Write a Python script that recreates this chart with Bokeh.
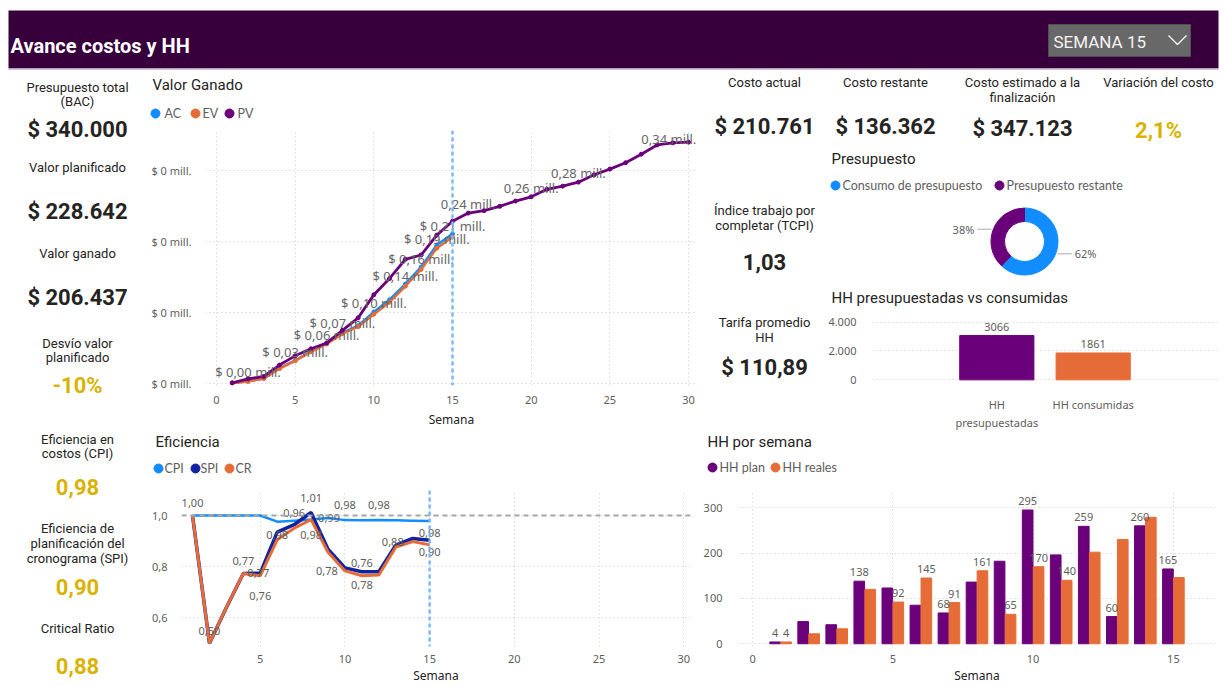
import math
from bokeh.plotting import figure
from bokeh.layouts import row, column
from bokeh.models import Range1d, FixedTicker, ColumnDataSource, Span
from bokeh.core.properties import value
from bokeh.transform import dodge
from bokeh.embed import file_html
from bokeh.resources import INLINE

# ---------------- data ----------------
weeks = list(range(1, 31))
pv = [1000, 6500, 10000, 26000, 39000, 49000, 57000, 75000, 92500, 125000,
      148000, 175000, 181000, 209000, 228642, 240000, 243500, 249500, 257000, 263000,
      273500, 278000, 283600, 294000, 302000, 311000, 323000, 336000, 339000, 340000]
weeks_act = list(range(1, 16))
ev = [800, 3000, 7000, 21000, 32000, 44600, 55700, 70000, 80000, 97700,
      114600, 137000, 160600, 190600, 206437]
ac = [800, 3100, 7200, 21500, 32500, 45500, 57000, 71500, 81500, 100800,
      118000, 140000, 164000, 195000, 210761]
cpi = [1.0, 1.0, 1.0, 1.0, 1.0, 0.976, 0.98, 0.984, 0.99, 0.982, 0.981, 0.982, 0.981, 0.98, 0.979]
spi = [1.0, 0.50, 0.64, 0.773, 0.774, 0.935, 0.964, 1.012, 0.868, 0.795, 0.78, 0.78, 0.884, 0.91, 0.903]
cr = [1.0, 0.50, 0.64, 0.773, 0.764, 0.905, 0.95, 0.984, 0.856, 0.783, 0.764, 0.767, 0.876, 0.898, 0.885]
hh_plan = [4, 49, 42, 138, 123, 85, 68, 136, 182, 295, 196, 259, 60, 260, 165]
hh_real = [4, 22, 33, 120, 92, 145, 91, 161, 65, 170, 140, 202, 230, 279, 146]
hh_tot_cats = ["HH presupuestadas", "HH consumidas"]
hh_tot_tick_labels = ["HH\npresupuestadas", "HH consumidas"]
hh_tot_vals = [3066, 1861]
budget_cats = ["Consumo de presupuesto", "Presupuesto restante"]
budget_vals = [210761, 129239]
current_week = 15

bac = 340000
costo_restante = 136362
tarifa_hh = 110.89

vg_x_ticks = [0, 5, 10, 15, 20, 25, 30]
vg_y_ticks = [0, 100000, 200000, 300000]
vg_y_labels = ["$ 0 mill.", "$ 0 mill.", "$ 0 mill.", "$ 0 mill."]
ef_x_ticks = [0, 5, 10, 15, 20, 25, 30]
ef_y_ticks = [0.6, 0.8, 1.0]
ef_y_labels = ["0,6", "0,8", "1,0"]
hh_x_ticks = [0, 5, 10, 15]
hh_y_ticks = [0, 100, 200, 300]
hht_y_ticks = [0, 2000, 4000]
hht_y_labels = ["0", "2.000", "4.000"]

# which points carry data labels (series, week, dx px, dy px)
vg_label_pts = [("EV", 2, 0, -9), ("EV", 5, 0, -9), ("EV", 7, 0, -9), ("EV", 8, 0, -11),
                ("EV", 10, 0, -11), ("EV", 12, 0, -10), ("EV", 13, 0, -11), ("EV", 14, 0, -9),
                ("EV", 15, 0, -11), ("PV", 16, 0, -9), ("PV", 20, 0, -9), ("PV", 23, 0, -9),
                ("PV", 29, -4, -4)]
ef_label_pts = [("SPI", 1, 0, -13), ("CR", 2, 0, -12), ("SPI", 4, 0, -12), ("SPI", 5, -2, 0),
                ("CR", 5, 0, 20), ("CPI", 6, 0, 13), ("SPI", 7, 0, -12), ("SPI", 8, 0, -14),
                ("CR", 8, 0, 15), ("CPI", 9, 1, 0), ("CPI", 10, 0, -15), ("CPI", 12, 0, -15),
                ("CR", 10, -18, 0), ("CR", 11, 0, -13), ("SPI", 11, 0, 13), ("SPI", 13, -3, -3),
                ("CPI", 15, 0, 12), ("SPI", 15, 0, 12)]
hh_label_pts = [("plan", 1), ("real", 1), ("plan", 4), ("real", 5), ("real", 6), ("plan", 7),
                ("real", 7), ("real", 8), ("real", 9), ("plan", 10), ("real", 10), ("real", 11),
                ("plan", 12), ("plan", 13), ("plan", 14), ("plan", 15)]

# ---------------- styles ----------------
C_AC = "#118DFF"
C_EV = "#E66C37"
C_PV = "#6B007B"
C_SPI = "#12239E"
GOLD = "#D9B300"
DARK = "#252423"
GRAY = "#605E5C"
HEADER = "#37003C"
KF = "Roboto"
AF = "Noto Sans"
LF = "Lato"


def money(v):
    return "$ " + f"{v:,.0f}".replace(",", ".")


def dec(v, n=2):
    return f"{v:.{n}f}".replace(".", ",")


def canvas(w, h, flip=True):
    yr = Range1d(h, 0) if flip else Range1d(0, h)
    p = figure(width=w, height=h, x_range=Range1d(0, w), y_range=yr,
               output_backend="svg", toolbar_location=None,
               x_axis_type=None, y_axis_type=None,
               min_border_left=0, min_border_right=0, min_border_top=0, min_border_bottom=0)
    p.outline_line_color = None
    p.background_fill_color = "white"
    p.border_fill_color = "white"
    return p


def txt(p, x, y, s, size=13, color=DARK, bold=False, align="center", font=KF, baseline="middle"):
    p.text(x=[x], y=[y], text=[s], text_font=value(font), text_font_size=f"{size}px",
           text_color=color, text_align=align, text_baseline=baseline,
           text_font_style="bold" if bold else "normal")


def chart(w, h, xr, yr, ml, mr, mt, mb):
    p = figure(width=w, height=h, x_range=xr, y_range=yr, output_backend="svg",
               toolbar_location=None, min_border_left=ml, min_border_right=mr,
               min_border_top=mt, min_border_bottom=mb)
    p.outline_line_color = None
    p.background_fill_color = "white"
    p.border_fill_color = "white"
    for ax in p.axis:
        ax.axis_line_color = None
        ax.major_tick_line_color = None
        ax.minor_tick_line_color = None
        ax.major_label_text_color = GRAY
        ax.major_label_text_font = AF
        ax.major_label_text_font_size = "11px"
        ax.axis_label_text_font = AF
        ax.axis_label_text_font_size = "12px"
        ax.axis_label_text_font_style = "normal"
        ax.axis_label_text_color = DARK
    for g in p.grid:
        g.grid_line_color = "#C8C8C8"
        g.grid_line_dash = "1 3"
        g.grid_line_width = 1
    return p


def legend(p, y, items):
    for (cx, tx, label, col) in items:
        p.scatter(x=[cx], y=[y], size=9, color=col)
        txt(p, tx, y, label, 12.5, GRAY, False, "left", LF)


def iso(f):
    return column(f)


# ---------------- KPIs ----------------
pv_now = pv[current_week - 1]
ev_now = ev[current_week - 1]
ac_now = ac[current_week - 1]
desvio = (ev_now - pv_now) / pv_now * 100
cpi_now = ev_now / ac_now
spi_now = ev_now / pv_now
cr_now = cpi_now * spi_now
eac = ac_now + costo_restante
tcpi = (bac - ev_now) / (bac - ac_now)
variacion = (eac - bac) / bac * 100

# header  (page 0..1225 x 0..70)
hdr = canvas(1225, 70)
hdr.quad(left=[8], right=[1218], top=[10], bottom=[68], fill_color=HEADER, line_color=None)
hdr.segment(x0=[8], y0=[69], x1=[1218], y1=[69], line_color="#D2C3D8", line_width=2)
txt(hdr, 10, 45, "Avance costos y HH", 20, "white", True, "left")
hdr.quad(left=[1048], right=[1190], top=[24], bottom=[56], fill_color="#686868", line_color="#505050")
txt(hdr, 1053, 41, f"SEMANA {current_week}", 17, "#F3F3F3", False, "left")
hdr.line(x=[1168, 1177, 1186], y=[35, 44, 35], line_color="white", line_width=1.3)

# left KPI column (page 0..148 x 70..686)
kl = canvas(148, 616)
cx = 77
txt(kl, cx, 17, "Presupuesto total")
txt(kl, cx, 31, "(BAC)")
txt(kl, cx, 59, money(bac), 22, DARK, True)
txt(kl, cx, 97, "Valor planificado")
txt(kl, cx, 141, money(pv_now), 22, DARK, True)
txt(kl, cx, 183, "Valor ganado")
txt(kl, cx, 227, money(ev_now), 22, DARK, True)
txt(kl, cx, 273, "Desvío valor")
txt(kl, cx, 287, "planificado")
txt(kl, cx, 315, f"{desvio:.0f}%", 22, GOLD, True)
txt(kl, cx, 369, "Eficiencia en")
txt(kl, cx, 383, "costos (CPI)")
txt(kl, cx, 416, dec(cpi_now), 22, GOLD, True)
txt(kl, cx, 458, "Eficiencia de")
txt(kl, cx, 473, "planificación del")
txt(kl, cx, 488, "cronograma (SPI)")
txt(kl, cx, 516, dec(spi_now), 22, GOLD, True)
txt(kl, cx, 558, "Critical Ratio")
txt(kl, cx, 595, dec(cr_now), 22, GOLD, True)

# middle KPI column (page 700..825 x 70..432)
km = canvas(125, 362)
cx = 64
txt(km, cx, 12, "Costo actual")
txt(km, cx, 56, money(ac_now), 22, DARK, True)
txt(km, cx, 140, "Índice trabajo por")
txt(km, cx, 155, "completar (TCPI)")
txt(km, cx, 191, dec(tcpi), 22, DARK, True)
txt(km, cx, 252, "Tarifa promedio")
txt(km, cx, 267, "HH")
txt(km, cx, 297, "$ " + dec(tarifa_hh), 22, DARK, True)

# top-right KPIs (page 825..1225 x 70..145)
kt = canvas(400, 75)
txt(kt, 60, 12, "Costo restante")
txt(kt, 60, 56, money(costo_restante), 22, DARK, True)
txt(kt, 197, 12, "Costo estimado a la")
txt(kt, 197, 27, "finalización")
txt(kt, 197, 58, money(eac), 22, DARK, True)
txt(kt, 333, 12, "Variación del costo")
txt(kt, 333, 60, dec(variacion, 1) + "%", 22, GOLD, True)

# donut (page 825..1225 x 145..310), y up
dn = canvas(400, 165, flip=False)
txt(dn, 6, 152, "Presupuesto", 15, DARK, False, "left")
legend(dn, 125, [(10, 17, budget_cats[0], C_AC), (174, 181, budget_cats[1], C_PV)])
dcx, dcy, r_in, r_out = 199, 69, 20, 33.5
total = sum(budget_vals)
fracs = [v / total for v in budget_vals]
starts, ends = [], []
a = math.pi / 2
for f in fracs:
    starts.append(a)
    a -= 2 * math.pi * f
    ends.append(a)
dn.annular_wedge(x=dcx, y=dcy, inner_radius=r_in, outer_radius=r_out, start_angle=starts,
                 end_angle=ends, direction="clock", color=[C_AC, C_PV])
for s, e, f in zip(starts, ends, fracs):
    m = (s + e) / 2
    ex, ey = dcx + r_out * math.cos(m), dcy + r_out * math.sin(m)
    side = 1 if math.cos(m) > 0 else -1
    x0, x1 = ex + side * 2, ex + side * 16
    dn.segment(x0=[x0], y0=[ey], x1=[x1], y1=[ey], line_color="#AAAAAA", line_width=1)
    txt(dn, x1 + side * 3, ey, f"{f * 100:.0f}%", 11, GRAY, False, "left" if side > 0 else "right", AF)
txt(dn, 6, 13, "HH presupuestadas vs consumidas", 15, DARK, False, "left")

# HH presupuestadas vs consumidas (page 825..1225 x 310..432)
hb = chart(400, 122, Range1d(-0.79, 2.79), Range1d(-114, 4800), 43, 8, 0, 36)
hb_x = [i + 0.5 for i in range(len(hh_tot_cats))]
hb.vbar(x=hb_x, top=hh_tot_vals, width=0.77, color=[C_PV, C_EV])
hb.text(x=hb_x, y=hh_tot_vals, text=[str(v) for v in hh_tot_vals], y_offset=-5,
        text_font=value(AF), text_font_size="11px", text_color=GRAY, text_align="center",
        text_baseline="bottom")
hb.yaxis.ticker = FixedTicker(ticks=hht_y_ticks)
hb.yaxis.major_label_overrides = dict(zip(hht_y_ticks, hht_y_labels))
hb.yaxis.major_label_standoff = 10
hb.xaxis.ticker = FixedTicker(ticks=hb_x)
hb.xaxis.major_label_overrides = dict(zip(hb_x, hh_tot_tick_labels))
hb.xaxis.major_label_standoff = 9
hb.xgrid.visible = False

# HH por semana (page 700..1225 x 432..686)
hh_head = canvas(525, 58)
txt(hh_head, 7, 9, "HH por semana", 15, DARK, False, "left")
legend(hh_head, 35, [(12, 19, "HH plan", C_PV), (75, 82, "HH reales", C_EV)])

hs = chart(525, 196, Range1d(-0.5, 16.5), Range1d(-6, 338), 35, 10, 0, 34)
src = ColumnDataSource(dict(week=weeks_act, plan=hh_plan, real=hh_real))
hs.vbar(x=dodge("week", -0.195, range=hs.x_range), top="plan", width=0.38, source=src, color=C_PV)
hs.vbar(x=dodge("week", 0.195, range=hs.x_range), top="real", width=0.38, source=src, color=C_EV)
lx, ly, lt = [], [], []
for ser, w in hh_label_pts:
    v = hh_plan[w - 1] if ser == "plan" else hh_real[w - 1]
    lx.append(w - 0.195 if ser == "plan" else w + 0.195)
    ly.append(v)
    lt.append(str(v))
hs.text(x=lx, y=ly, text=lt, y_offset=-5, text_font=value(AF), text_font_size="11px",
        text_color=GRAY, text_align="center", text_baseline="bottom")
hs.xaxis.ticker = FixedTicker(ticks=hh_x_ticks)
hs.yaxis.ticker = FixedTicker(ticks=hh_y_ticks)
hs.yaxis.major_label_standoff = 10
hs.xaxis.major_label_standoff = 2
hs.xaxis.axis_label = "Semana"
hs.xaxis.axis_label_standoff = 1

# Valor ganado (page 148..700 x 70..430)
vg_head = canvas(552, 60)
txt(vg_head, 4, 14, "Valor Ganado", 15, DARK, False, "left")
legend(vg_head, 43, [(7, 16, "AC", C_AC), (47, 54, "EV", C_EV), (81, 89, "PV", C_PV)])

vg = chart(552, 300, Range1d(-0.7, 30.57), Range1d(-2762, 356354), 55, 3, 0, 40)
vg.xaxis.ticker = FixedTicker(ticks=vg_x_ticks)
vg.yaxis.ticker = FixedTicker(ticks=vg_y_ticks)
vg.yaxis.major_label_overrides = dict(zip(vg_y_ticks, vg_y_labels))
vg.yaxis.major_label_standoff = 8
vg.xaxis.major_label_standoff = 4
vg.xaxis.axis_label = "Semana"
vg.xaxis.axis_label_standoff = 4
vg.add_layout(Span(location=current_week, dimension="height", line_color="#7DB9F7",
                   line_width=2.5, line_dash="4 3"))
vg.line(weeks_act, ac, line_color=C_AC, line_width=2.5)
vg.scatter(weeks_act, ac, size=4, color=C_AC)
vg.line(weeks_act, ev, line_color=C_EV, line_width=2.5)
vg.scatter(weeks_act, ev, size=4, color=C_EV)
vg.line(weeks, pv, line_color=C_PV, line_width=2.8)
vg.scatter(weeks, pv, size=4, color=C_PV)
lx, ly, lt, ldx, ldy = [], [], [], [], []
for ser, w, dx, dy in vg_label_pts:
    v = ev[w - 1] if ser == "EV" else pv[w - 1]
    s = dec(v / 1e6) + " mill."
    lx.append(w)
    ly.append(v)
    lt.append("$ " + s if ser == "EV" else s)
    ldx.append(dx)
    ldy.append(dy)
vg.text(x=lx, y=ly, text=lt, x_offset=ldx, y_offset=ldy, text_font=value(AF),
        text_font_size="13px", text_color="#666666", text_align="center", text_baseline="middle")

# Eficiencia (page 148..700 x 430..686)
ef_head = canvas(552, 60)
txt(ef_head, 7, 11, "Eficiencia", 15, DARK, False, "left")
legend(ef_head, 38, [(10, 16, "CPI", C_AC), (47, 52, "SPI", C_SPI), (81, 87, "CR", C_EV)])

ef = chart(552, 196, Range1d(0.35, 30.4), Range1d(0.487, 1.098), 32, 10, 0, 34)
ef.xaxis.ticker = FixedTicker(ticks=ef_x_ticks)
ef.yaxis.ticker = FixedTicker(ticks=ef_y_ticks)
ef.yaxis.major_label_overrides = dict(zip(ef_y_ticks, ef_y_labels))
ef.yaxis.major_label_standoff = 8
ef.xaxis.major_label_standoff = 2
ef.xaxis.axis_label = "Semana"
ef.xaxis.axis_label_standoff = 1
ef.add_layout(Span(location=1.0, dimension="width", line_color="#A6A6A6", line_width=2, line_dash="5 4"))
ef.add_layout(Span(location=current_week, dimension="height", line_color="#7DB9F7",
                   line_width=2.5, line_dash="4 3"))
ef.line(weeks_act, cpi, line_color=C_AC, line_width=2.5)
ef.line(weeks_act, spi, line_color=C_SPI, line_width=3.5)
ef.line(weeks_act, cr, line_color=C_EV, line_width=3)
series = {"CPI": cpi, "SPI": spi, "CR": cr}
lx, ly, lt, ldx, ldy = [], [], [], [], []
for ser, w, dx, dy in ef_label_pts:
    v = series[ser][w - 1]
    lx.append(w)
    ly.append(v)
    lt.append(dec(v))
    ldx.append(dx)
    ldy.append(dy)
ef.text(x=lx, y=ly, text=lt, x_offset=ldx, y_offset=ldy, text_font=value(AF),
        text_font_size="11px", text_color=GRAY, text_align="center", text_baseline="middle")

# ---------------- layout ----------------
middle = column(iso(vg_head), iso(vg), iso(ef_head), iso(ef))
right = column(row(iso(km), column(iso(kt), iso(dn), iso(hb))), iso(hh_head), iso(hs))
page = column(iso(hdr), row(iso(kl), middle, right))

open("out.html", "w").write(file_html(page, INLINE))
